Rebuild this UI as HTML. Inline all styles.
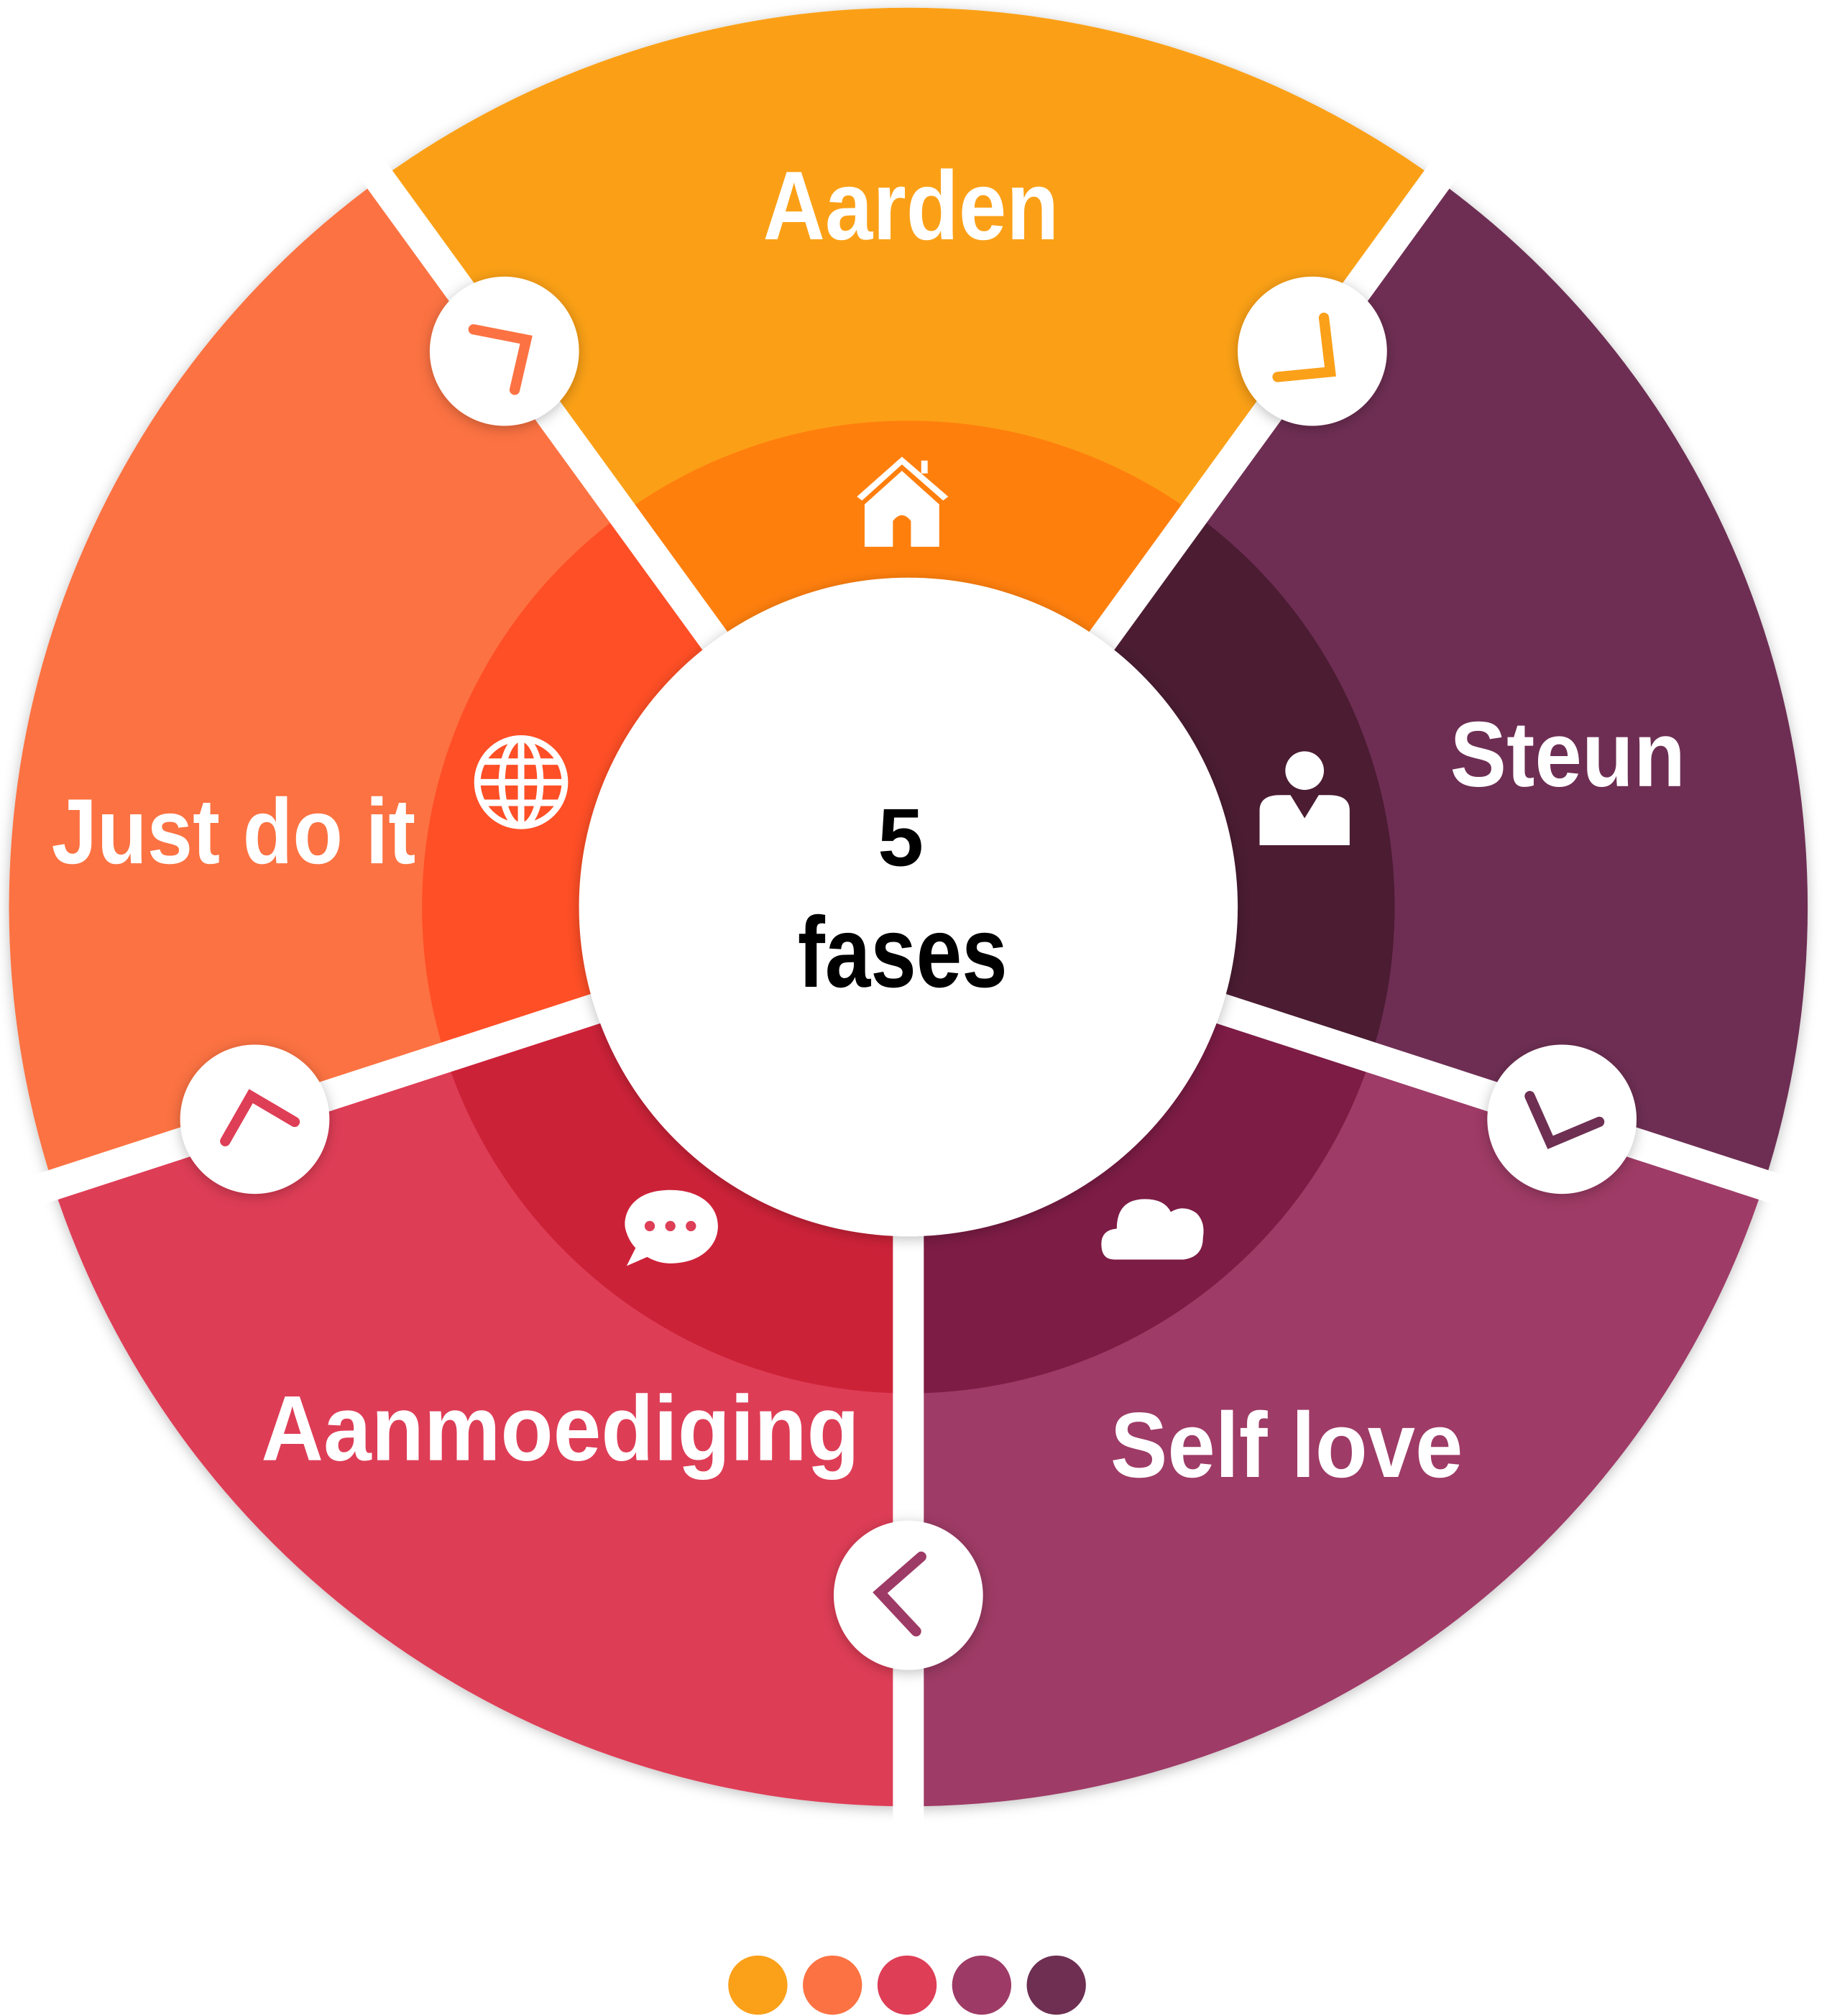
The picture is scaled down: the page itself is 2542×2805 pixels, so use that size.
<!DOCTYPE html>
<html><head><meta charset="utf-8"><style>
html,body{margin:0;padding:0;background:#fff}
svg{display:block}
text{font-family:"Liberation Sans",sans-serif;font-weight:bold}
</style></head><body>
<svg width="2542" height="2805" viewBox="0 0 1420 1567" xmlns="http://www.w3.org/2000/svg">
<defs>
<filter id="sh" x="-20%" y="-20%" width="140%" height="140%"><feDropShadow dx="0" dy="2" stdDeviation="5" flood-color="#000" flood-opacity="0.25"/></filter>
</defs>
<g filter="url(#sh)">
<path d="M706 705 L295.1 139.5 A699 699 0 0 1 1116.9 139.5 Z" fill="#FBA019"/>
<path d="M706 705 L1116.9 139.5 A699 699 0 0 1 1370.8 921 Z" fill="#6E2F52"/>
<path d="M706 705 L1370.8 921 A699 699 0 0 1 706 1404 Z" fill="#9E3A66"/>
<path d="M706 705 L706 1404 A699 699 0 0 1 41.2 921 Z" fill="#DE3E56"/>
<path d="M706 705 L41.2 921 A699 699 0 0 1 295.1 139.5 Z" fill="#FC7243"/>
<path d="M706 705 L483.8 399.2 A378 378 0 0 1 928.2 399.2 Z" fill="#FF7F0F"/>
<path d="M706 705 L928.2 399.2 A378 378 0 0 1 1065.5 821.8 Z" fill="#4C1A33"/>
<path d="M706 705 L1065.5 821.8 A378 378 0 0 1 706 1083 Z" fill="#7D1F44"/>
<path d="M706 705 L706 1083 A378 378 0 0 1 346.5 821.8 Z" fill="#CC2437"/>
<path d="M706 705 L346.5 821.8 A378 378 0 0 1 483.8 399.2 Z" fill="#FF4F28"/>
</g>
<g stroke="#fff" stroke-width="24">
<line x1="706" y1="705" x2="1129.2" y2="122.5"/>
<line x1="706" y1="705" x2="1390.8" y2="927.5"/>
<line x1="706" y1="705" x2="706" y2="1425"/>
<line x1="706" y1="705" x2="21.2" y2="927.5"/>
<line x1="706" y1="705" x2="282.8" y2="122.5"/>
</g>
<circle cx="706" cy="705" r="256" fill="#fff" filter="url(#sh)"/>
<g fill="#fff" filter="url(#sh)">
<circle cx="1020" cy="273" r="58"/>
<circle cx="1214" cy="870" r="58"/>
<circle cx="706" cy="1240" r="58"/>
<circle cx="198" cy="870" r="58"/>
<circle cx="392" cy="273" r="58"/>
</g>
<g fill="none" stroke-width="8" stroke-linecap="round">
<polyline points="1029,247 1034,289 993,293" stroke="#FBA019"/>
<polyline points="368,256 409,264 400,303" stroke="#FC7243"/>
<polyline points="1189,852 1205,888 1243,872" stroke="#6E2F52"/>
<polyline points="716,1210 684,1238 712,1268" stroke="#9E3A66"/>
<polyline points="175,887 195,852 229,872" stroke="#DE3E56"/>
</g>
<g fill="#fff">
<text x="593" y="186" font-size="76" textLength="230" lengthAdjust="spacingAndGlyphs">Aarden</text>
<text x="1127" y="611" font-size="72" textLength="183" lengthAdjust="spacingAndGlyphs">Steun</text>
<text x="40" y="671" font-size="72" textLength="283" lengthAdjust="spacingAndGlyphs">Just do it</text>
<text x="203" y="1135" font-size="72" textLength="465" lengthAdjust="spacingAndGlyphs">Aanmoediging</text>
<text x="863" y="1148" font-size="72" textLength="274" lengthAdjust="spacingAndGlyphs">Self love</text>
</g>
<text x="700" y="673" font-size="64" text-anchor="middle" fill="#000">5</text>
<text x="620" y="767" font-size="78" fill="#000" textLength="163" lengthAdjust="spacingAndGlyphs">fases</text>
<g fill="#fff">
<path d="M666 386 L701 355 L737 386 L733 389 L701 361 L670 389 Z"/>
<path d="M672 392 L701 366 L730 392 L730 425 L708 425 L708 405 Q701 396 694 405 L694 425 L672 425 Z"/>
<rect x="716" y="358" width="5" height="10"/>
<circle cx="1014" cy="599" r="15"/>
<path d="M979 657 L979 630 Q979 618 995 618 L1003 618 L1014 636 L1025 618 L1033 618 Q1049 618 1049 630 L1049 657 Z"/>
<path d="M521 925 C490 925 484 945 486 955 C488 963 492 968 494 970 L487 984 L503 977 C510 981 516 982 521 982 C545 982 558 968 558 953 C558 938 545 925 521 925 Z"/>
<path d="M866 979 Q856 979 856 967 Q856 956 868 955 Q868 932 890 932 Q905 932 910 942 Q920 936 930 943 Q937 950 935 962 Q935 977 920 979 Z"/>
</g>
<g fill="#DE3E56"><circle cx="505" cy="953" r="4"/><circle cx="521" cy="953" r="4"/><circle cx="537" cy="953" r="4"/></g>
<g fill="none" stroke="#fff" stroke-width="5">
<circle cx="405" cy="608" r="34"/>
<ellipse cx="405" cy="608" rx="15" ry="34"/>
<line x1="405" y1="574" x2="405" y2="642"/>
<line x1="371" y1="608" x2="439" y2="608"/>
<line x1="376" y1="592" x2="434" y2="592"/>
<line x1="376" y1="624" x2="434" y2="624"/>
</g>
<circle cx="589" cy="1543" r="23" fill="#FBA019"/>
<circle cx="647" cy="1543" r="23" fill="#FC7243"/>
<circle cx="705" cy="1543" r="23" fill="#DE3E56"/>
<circle cx="763" cy="1543" r="23" fill="#9E3A66"/>
<circle cx="821" cy="1543" r="23" fill="#6E2F52"/>
</svg>
</body></html>
